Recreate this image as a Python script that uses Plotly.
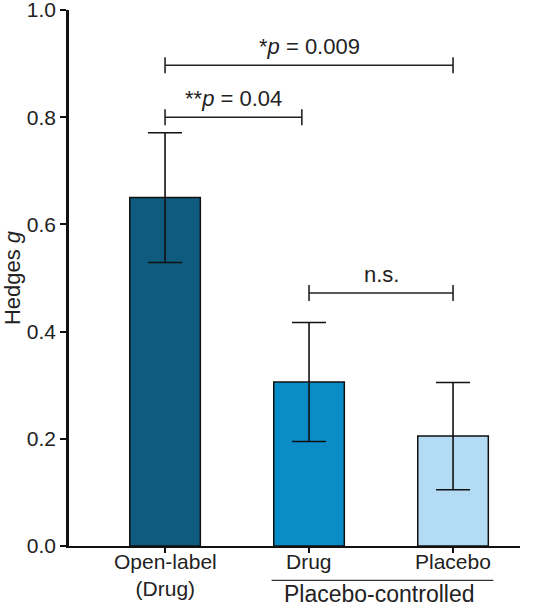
import plotly.graph_objects as go

# Data
categories = ["Open-label<br>(Drug)", "Drug", "Placebo"]
x_pos = [0, 1, 2]
hedges_g = [0.650, 0.306, 0.205]
ci_err = [0.121, 0.111, 0.100]
bar_colors = ["#0f5b7f", "#0a8dc7", "#b3dbf4"]

# Significance brackets: (x_start, x_end, y, label)
bracket_x0 = [0, 0, 1]
bracket_x1 = [2, 0.95, 2]
bracket_y = [0.897, 0.800, 0.472]
bracket_labels = ["*<i>p</i> = 0.009", "**<i>p</i> = 0.04", "n.s."]

group_label = "Placebo-controlled"
y_ticks = [0.0, 0.2, 0.4, 0.6, 0.8, 1.0]

FONT = "Arial, Liberation Sans, Helvetica, sans-serif"
INK = "#222222"

fig = go.Figure()
fig.add_trace(go.Bar(
    x=x_pos, y=hedges_g, width=0.49,
    marker=dict(color=bar_colors, line=dict(color="#111111", width=1.5)),
    error_y=dict(type="data", array=ci_err, color="#111111", thickness=1.6, width=17),
    showlegend=False, hoverinfo="skip",
))

cap = 0.015
for x0, x1, y, lab in zip(bracket_x0, bracket_x1, bracket_y, bracket_labels):
    fig.add_trace(go.Scatter(
        x=[x0, x0, None, x0, x1, None, x1, x1],
        y=[y - cap, y + cap, None, y, y, None, y - cap, y + cap],
        mode="lines", line=dict(color="#222222", width=1.6),
        showlegend=False, hoverinfo="skip",
    ))
    fig.add_annotation(x=(x0 + x1) / 2, y=y, text=lab, showarrow=False,
                       yanchor="bottom", yshift=4,
                       font=dict(family=FONT, size=22, color=INK))

# Category labels (placed under the axis ticks)
for xp, cat in zip(x_pos, categories):
    fig.add_annotation(xref="x", yref="paper", x=xp, y=-0.004, yanchor="top",
                       text=cat, showarrow=False,
                       font=dict(family=FONT, size=21, color=INK))

# Group underline + label
fig.add_shape(type="line", xref="x", yref="paper", x0=0.74, x1=2.28, y0=-0.064, y1=-0.064,
              line=dict(color="#333333", width=1.2))
fig.add_annotation(xref="x", yref="paper", x=1.49, y=-0.089, yanchor="middle",
                   text=group_label, showarrow=False,
                   font=dict(family=FONT, size=23, color=INK))

fig.update_layout(
    width=547, height=605,
    margin=dict(l=69, r=27, t=9.5, b=59),
    paper_bgcolor="white", plot_bgcolor="white",
    font=dict(family=FONT, color=INK),
    xaxis=dict(
        range=[-0.667, 2.465], tickvals=x_pos, ticktext=["", "", ""],
        showline=True, linecolor="#111111", linewidth=2,
        ticks="outside", ticklen=5, tickwidth=1.5, tickcolor="#111111",
        showgrid=False, zeroline=False, automargin=False,
    ),
    yaxis=dict(
        range=[0, 1.0], tickvals=y_ticks, tickformat=".1f",
        showline=True, linecolor="#111111", linewidth=2.5,
        ticks="outside", ticklen=6, tickwidth=2, tickcolor="#111111",
        tickfont=dict(family=FONT, size=21, color=INK),
        ticklabeloverflow="allow",
        title=dict(text="Hedges <i>g</i>", font=dict(family=FONT, size=22, color=INK), standoff=3),
        showgrid=False, zeroline=False, automargin=False,
    ),
)

fig.write_html("out.html", config={"displayModeBar": False},
               post_script="document.body.style.margin='0';")
